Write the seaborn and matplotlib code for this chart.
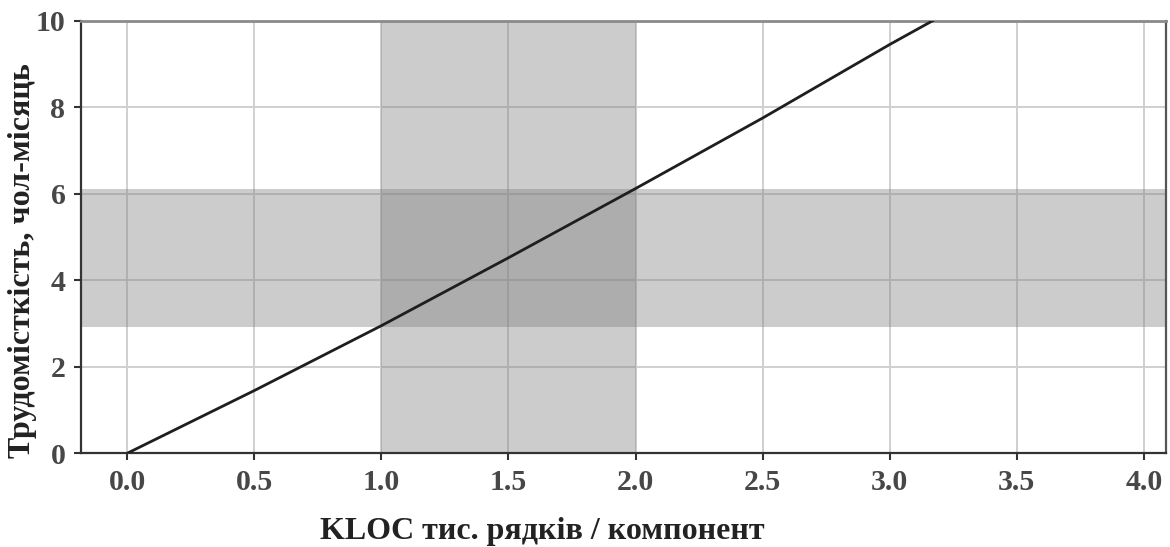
import matplotlib
matplotlib.use("Agg")
import matplotlib.pyplot as plt
import seaborn as sns
import pandas as pd

# ---- data ----
kloc = [0.0, 0.5, 1.0, 1.5, 2.0, 2.5, 3.0, 3.2]
effort = [0.0, 1.45, 2.95, 4.52, 6.12, 7.75, 9.45, 10.1]
band_kloc = [1.0, 2.0]
band_effort = [2.92, 6.12]
xticks = [0.0, 0.5, 1.0, 1.5, 2.0, 2.5, 3.0, 3.5, 4.0]
yticks = [0, 2, 4, 6, 8, 10]
x_label = "KLOC тис. рядків / компонент"
y_label = "Трудомісткість, чол-місяць"

sns.set_theme(style="whitegrid")
plt.rcParams['font.family'] = ['Liberation Serif', 'DejaVu Serif']

fig = plt.figure(figsize=(11.7, 5.47), dpi=100)
ax = fig.add_axes([80.7/1170, 1-453.3/547, (1166-80.7)/1170, (453.3-20.7)/547])

ax.axvspan(band_kloc[0], band_kloc[1], color='#808080', alpha=0.4, lw=0, zorder=1)
ax.axhspan(band_effort[0], band_effort[1], color='#808080', alpha=0.4, lw=0, zorder=1)

df = pd.DataFrame({"kloc": kloc, "effort": effort})
sns.lineplot(data=df, x="kloc", y="effort", ax=ax, color='#1e1e1e', lw=2.0, zorder=3)

ax.set_xlim(-0.183, 4.087)
ax.set_ylim(0, 10)
ax.set_xticks(xticks)
ax.set_xticklabels([f"{t:.1f}" for t in xticks])
ax.set_yticks(yticks)
ax.set_yticklabels([str(t) for t in yticks])
ax.set_xlabel("")
ax.set_ylabel("")

ax.grid(True, color='#cfcfcf', lw=1.4, zorder=0)
ax.set_axisbelow(True)
ax.tick_params(axis='both', which='major', direction='out', length=5, width=1.5,
               color='#333333', labelsize=21.5, labelcolor='#474747', pad=6, bottom=True, left=True)
for side in ['left', 'bottom']:
    ax.spines[side].set_color('#333333')
    ax.spines[side].set_linewidth(1.6)
ax.spines['top'].set_color('#8a8a8a')
ax.spines['top'].set_linewidth(2.0)
ax.spines['right'].set_color('#555555')
ax.spines['right'].set_linewidth(1.6)
for lab in ax.get_xticklabels() + ax.get_yticklabels():
    lab.set_fontweight('bold')

fig.text(542/1170, 1-531/547, x_label, ha='center', va='center', fontsize=23,
         fontweight='bold', color='#222222')
fig.text(23/1170, 1-261/547, y_label, ha='center', va='center', rotation=90,
         fontsize=23, fontweight='bold', color='#222222')

fig.savefig("out.png", dpi=100)
